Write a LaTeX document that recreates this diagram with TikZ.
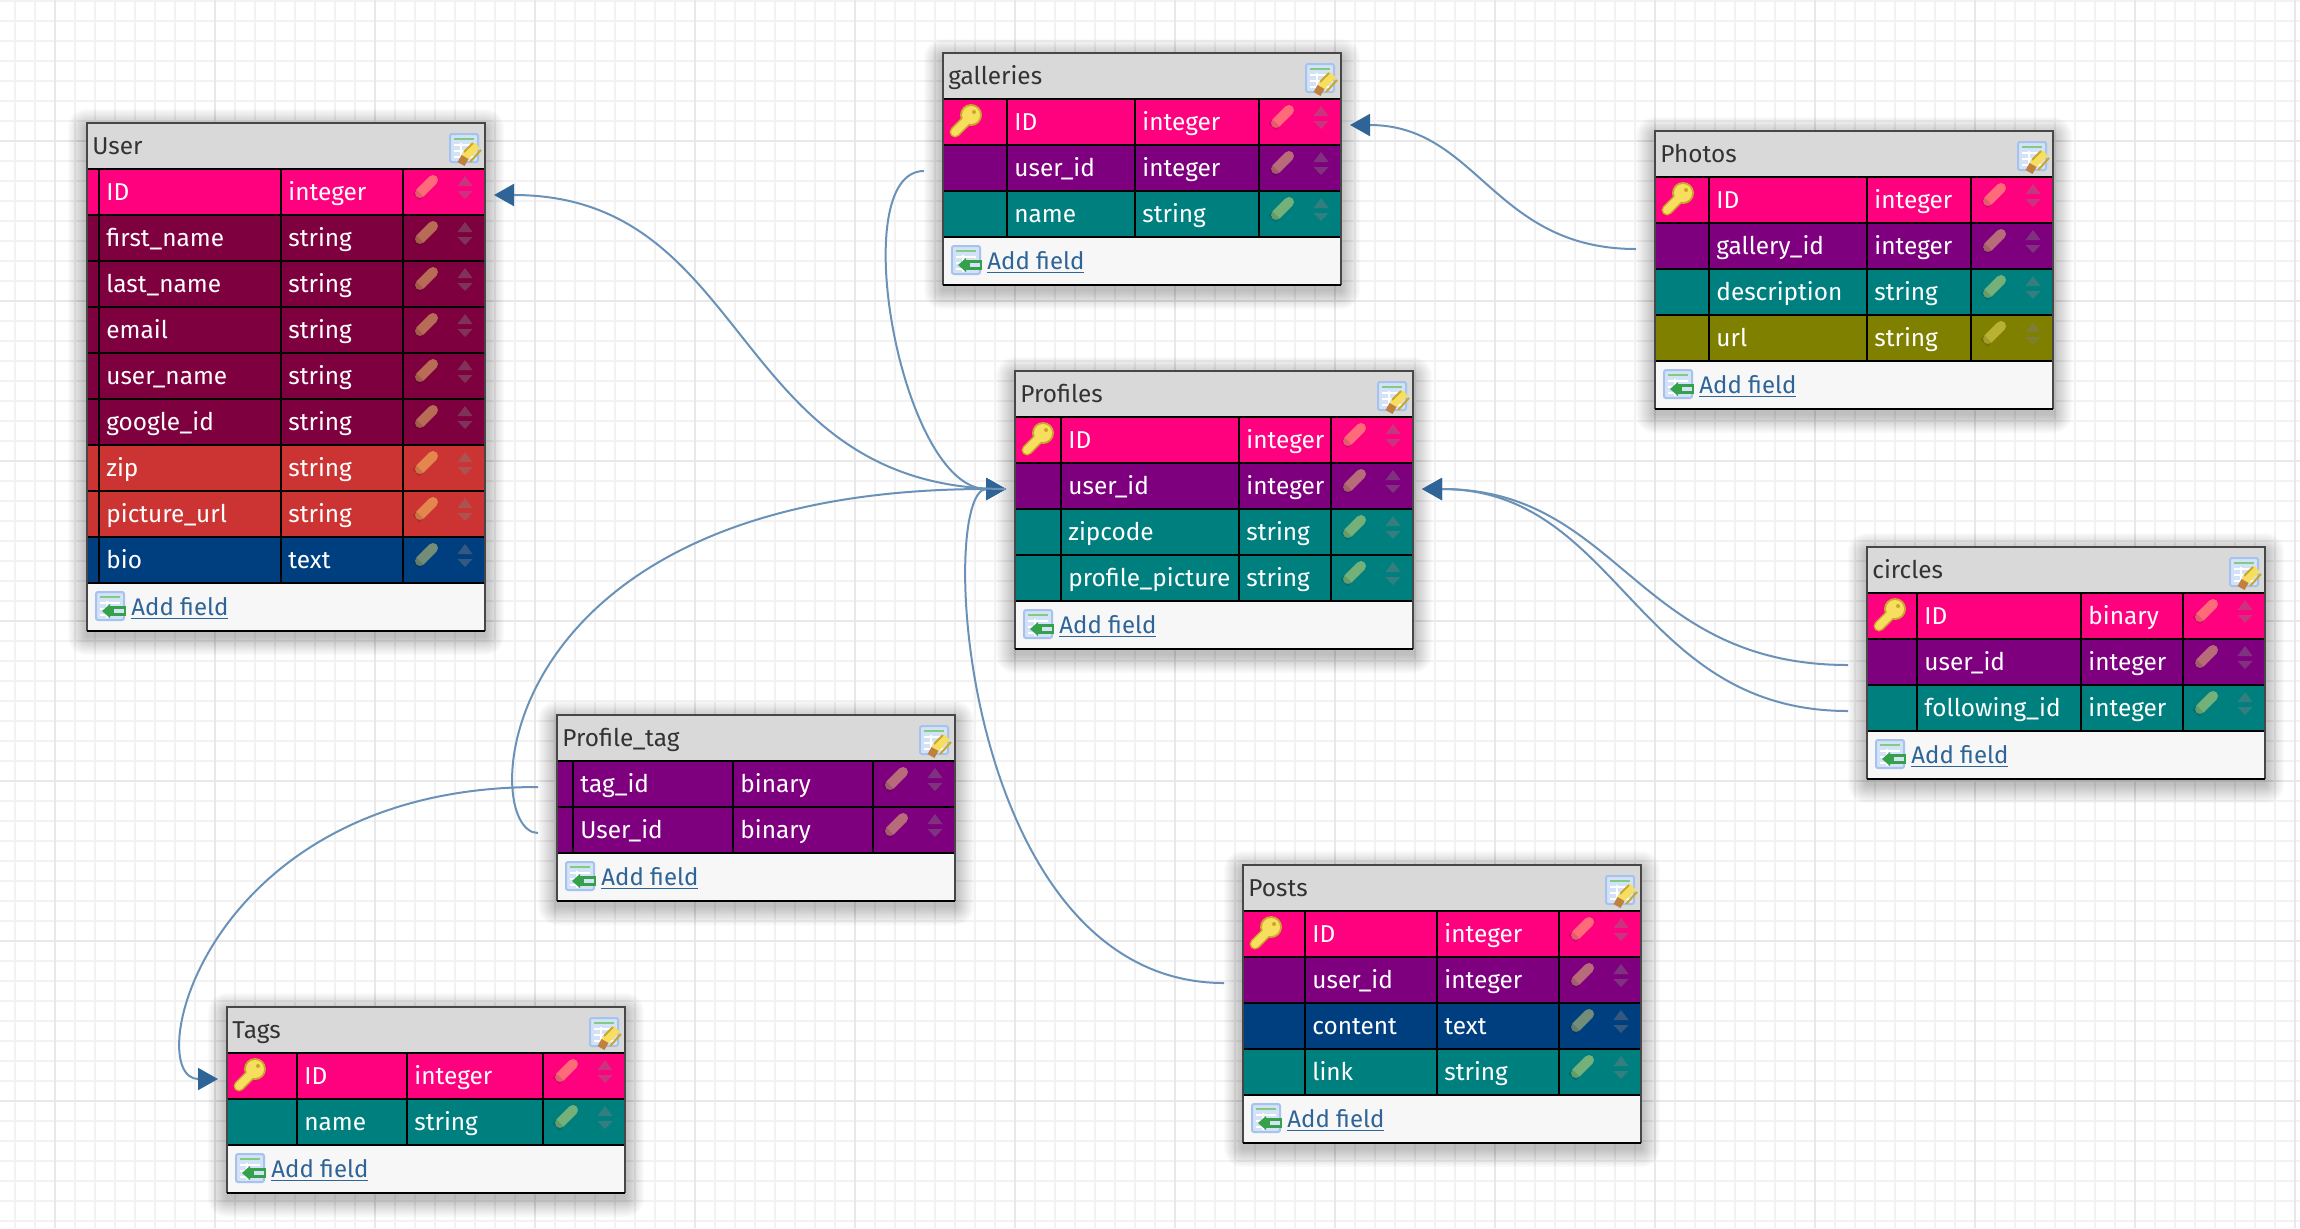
\documentclass[tikz,border=0pt]{standalone}
\usepackage{fontspec}
\setmainfont{Fira Sans}
\usetikzlibrary{arrows.meta}

\definecolor{dbKey}{HTML}{FF007F}
\definecolor{dbMaroon}{HTML}{7F003F}
\definecolor{dbRed}{HTML}{CC3333}
\definecolor{dbNavy}{HTML}{003F7F}
\definecolor{dbPurple}{HTML}{7F007F}
\definecolor{dbTeal}{HTML}{007F7F}
\definecolor{dbOlive}{HTML}{7F7F00}
\definecolor{linkBlue}{HTML}{2F6496}
\definecolor{fkBlue}{HTML}{6A92B8}
\definecolor{pencilTint}{HTML}{FFEE70}
\definecolor{keyGold}{HTML}{F7DE5E}
\definecolor{keyEdge}{HTML}{C8A72B}
\definecolor{iconBlue}{HTML}{D3E2F7}
\definecolor{iconEdge}{HTML}{A5C3EE}
\definecolor{iconGreen}{HTML}{35A24B}

\tikzset{
    gridthin/.style={line width=1pt, color=black!5},
    gridthick/.style={line width=1pt, color=black!9},
    rowband/.style={inner sep=0pt, outer sep=0pt, minimum width=199pt, minimum height=23pt, anchor=north west},
    celltext/.style={inner sep=0pt, anchor=base west, text=white, font=\fontsize{12.2}{13}\selectfont},
    titletext/.style={inner sep=0pt, anchor=base west, text=black!80, font=\fontsize{12.2}{13}\selectfont},
    linktext/.style={inner sep=0pt, anchor=base west, text=linkBlue, font=\fontsize{12}{13}\selectfont},
    fklink/.style={line width=1pt, color=fkBlue, -{Triangle[length=10pt, width=11pt, color=linkBlue]}},
    fieldtools/.pic={
        \draw[line width=5pt, line cap=round, color=pencilTint, opacity=0.45] (17,24) -- (30,11);
        \draw[line width=5pt, color=black, opacity=0.12] (13,28) -- (17,24);
    },
    keyicon/.pic={
        \draw[line width=5.5pt, line cap=round, color=keyEdge] (12,33) -- (27,18);
        \draw[line width=2.5pt, color=keyEdge] (14,24) -- (20,31);
        \fill[keyEdge] (28,16) circle (11);
        \draw[line width=4pt, line cap=round, color=keyGold] (12,33) -- (27,18);
        \fill[keyGold] (28,16) circle (9);
        \fill[keyEdge] (31,13) circle (2);
    },
    tableicon/.pic={
        \draw[line width=1pt, color=iconEdge, fill=iconBlue, rounded corners=1pt] (0,0) rectangle (28,28);
        \draw[line width=1pt, color=green!60!black!50!white] (4,5) -- (24,5);
        \draw[line width=0.8pt, color=white] (4,11) -- (24,11) (4,17) -- (24,17) (4,23) -- (24,23) (11,9) -- (11,26);
    },
    editpencil/.pic={
        \draw[line width=4pt, color=keyGold] (14,24) -- (27,11);
        \draw[line width=1pt, color=keyEdge] (14,18) -- (23,9) (20,28) -- (31,16);
        \draw[line width=4pt, color=brown] (11,30) -- (15,23);
    },
    addarrow/.pic={
        \fill[iconGreen] (12,14) rectangle (30,24);
        \fill[iconGreen] (6,19) -- (14,12) -- (14,26) -- cycle;
        \fill[iconBlue] (18,17) rectangle (28,21);
    }
}

% One table: name, title, left, top, rows, three column rules, row list
\newcommand{\dbtable}[9]{
    % Shadow
    \pgfmathsetmacro{\rowsend}{#4+46+46*#5}
    \pgfmathsetmacro{\tablebottom}{\rowsend+48}
    \foreach \b in {1,...,16}
        \fill[black, opacity=0.014, rounded corners={\b*0.6pt}] ({#3-1.2*\b},{#4-1.2*\b+5}) rectangle ({#3+398+1.2*\b},{\tablebottom+1.2*\b+5});
    % Header and footer
    \fill[black!15] (#3,#4) rectangle ({#3+398},{#4+46});
    \fill[black!3] (#3,\rowsend) rectangle ({#3+398},\tablebottom);
    \node[titletext] (#1-title) at ({#3+5},{#4+31}) {#2};
    \pic at ({#3+363},{#4+11}) {tableicon};
    \pic at ({#3+363},{#4+11}) {editpencil};
    % Rows
    \foreach \bandcol/\fieldname/\typename/\iskey [count=\r] in {#9} {
        \pgfmathsetmacro{\rowtop}{#4+46*\r}
        \node[rowband, fill=\bandcol] (#1-\r) at (#3,\rowtop) {};
        \node[celltext] (#1-\r-field) at ({#6+7},{\rowtop+31}) {\fieldname};
        \node[celltext] (#1-\r-type) at ({#7+7},{\rowtop+31}) {\typename};
        \pic at ({#8},\rowtop) {fieldtools};
        \fill[black!50, opacity=0.4] ({#8+54.5},{\rowtop+17}) -- ({#8+69.5},{\rowtop+17}) -- ({#8+62},{\rowtop+7}) -- cycle;
        \fill[black!50, opacity=0.4] ({#8+54.5},{\rowtop+22}) -- ({#8+69.5},{\rowtop+22}) -- ({#8+62},{\rowtop+30}) -- cycle;
        \ifnum\iskey=1 \pic at (#3,\rowtop) {keyicon}; \fi
        \draw[line width=1pt] (#3,\rowtop) -- ({#3+398},\rowtop);
        % Connector ends beside this row
        \coordinate (#1-\r-l) at ({#3-9},{\rowtop+26});
        \coordinate (#1-\r-r) at ({#3+407},{\rowtop+26});
        \coordinate (#1-\r-s) at ({#3-19},{\rowtop+26});
    }
    % Column rules and frame
    \draw[line width=1pt] (#3,\rowsend) -- ({#3+398},\rowsend);
    \draw[line width=1pt] (#6,{#4+46}) -- (#6,\rowsend) (#7,{#4+46}) -- (#7,\rowsend) (#8,{#4+46}) -- (#8,\rowsend);
    \draw[line width=1pt, color=black!72] (#3,\tablebottom) -- (#3,#4) -- ({#3+398},#4) -- ({#3+398},\tablebottom);
    \draw[line width=1pt] (#3,\tablebottom) -- ({#3+398},\tablebottom);
    % Add field link
    \pic at ({#3+9},{\rowsend+9}) {tableicon};
    \pic at ({#3+9},{\rowsend+9}) {addarrow};
    \node[linktext] (#1-add) at ({#3+44},{\rowsend+32}) {\underline{Add field}};
}

\begin{document}
\begin{tikzpicture}[x=0.5pt, y=-0.5pt]
    \useasboundingbox (0,0) rectangle (2300,1228);
    \fill[white] (0,0) rectangle (2300,1228);

    % Background grid
    \foreach \gx in {15,35,...,2295} \draw[gridthin] (\gx,0) -- (\gx,1228);
    \foreach \gy in {1,21,...,1221} \draw[gridthin] (0,\gy) -- (2300,\gy);
    \foreach \gx in {55,215,...,2295} \draw[gridthick] (\gx,0) -- (\gx,1228);
    \foreach \gy in {141,301,...,1221} \draw[gridthick] (0,\gy) -- (2300,\gy);

    % Tables
    \dbtable{user}{User}{87}{123}{9}{99}{281}{403}{dbKey/ID/integer/0, dbMaroon/first\_name/string/0, dbMaroon/last\_name/string/0, dbMaroon/email/string/0, dbMaroon/user\_name/string/0, dbMaroon/google\_id/string/0, dbRed/zip/string/0, dbRed/picture\_url/string/0, dbNavy/bio/text/0}
    \dbtable{galleries}{galleries}{943}{53}{3}{1007}{1135}{1259}{dbKey/ID/integer/1, dbPurple/user\_id/integer/0, dbTeal/name/string/0}
    \dbtable{photos}{Photos}{1655}{131}{4}{1709}{1867}{1971}{dbKey/ID/integer/1, dbPurple/gallery\_id/integer/0, dbTeal/description/string/0, dbOlive/url/string/0}
    \dbtable{profiles}{Profiles}{1015}{371}{4}{1061}{1239}{1331}{dbKey/ID/integer/1, dbPurple/user\_id/integer/0, dbTeal/zipcode/string/0, dbTeal/profile\_picture/string/0}
    \dbtable{circles}{circles}{1867}{547}{3}{1917}{2081}{2183}{dbKey/ID/binary/1, dbPurple/user\_id/integer/0, dbTeal/following\_id/integer/0}
    \dbtable{profiletag}{Profile\_tag}{557}{715}{2}{573}{733}{873}{dbPurple/tag\_id/binary/0, dbPurple/User\_id/binary/0}
    \dbtable{posts}{Posts}{1243}{865}{4}{1305}{1437}{1559}{dbKey/ID/integer/1, dbPurple/user\_id/integer/0, dbNavy/content/text/0, dbTeal/link/string/0}
    \dbtable{tags}{Tags}{227}{1007}{2}{297}{407}{543}{dbKey/ID/integer/1, dbTeal/name/string/0}

    % Connectors
    \draw[fklink] (galleries-2-s) .. controls +(-80,0) and +(-105,0) .. (profiles-2-l);
    \draw[fklink] (profiletag-2-s) .. controls +(-60,0) and +(-522,0) .. (profiles-2-l);
    \draw[fklink] (posts-2-s) .. controls +(-264,0) and +(-70,0) .. (profiles-2-l);
    \draw[fklink] (profiles-2-l) .. controls +(-277,0) and +(260,0) .. (user-1-r);
    \draw[fklink] (profiletag-1-s) .. controls +(-335,0) and +(-78,0) .. (tags-1-l);
    \draw[fklink] (photos-2-s) .. controls +(-143,0) and +(128,0) .. (galleries-1-r);
    \draw[fklink] (circles-2-s) .. controls +(-213,0) and +(198,0) .. (profiles-2-r);
    \draw[fklink] (circles-3-s) .. controls +(-213,0) and +(198,0) .. (profiles-2-r);
\end{tikzpicture}
\end{document}
